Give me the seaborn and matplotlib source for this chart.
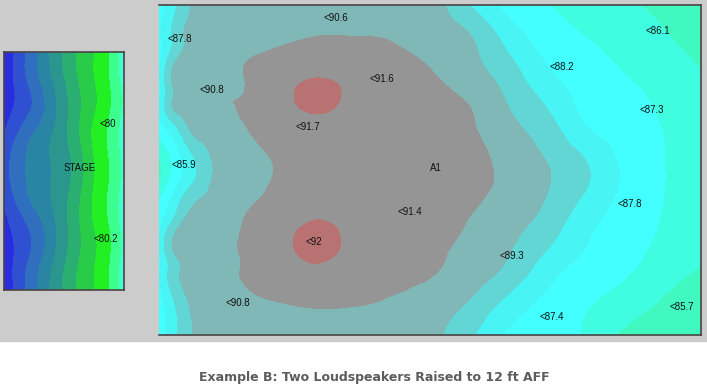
import seaborn as sns
import matplotlib.pyplot as plt
import matplotlib.tri as mtri
from matplotlib.patches import Rectangle
import numpy as np

# listening area grid (offsets inside the room panel) and SPL, dB
room_x = [0, 13, 31, 56, 81, 116, 156, 196, 236, 276, 311, 346, 386, 426, 466, 506, 542]
room_y = [0, 35, 65, 95, 125, 165, 205, 235, 265, 300, 330]
room_spl = [
    [87.5, 88.6, 90.0, 90.35, 90.55, 90.7, 90.8, 90.8, 90.6, 90.3, 89.0, 87.7, 87.03, 86.6, 86.15, 85.75, 85.4],
    [87.7, 89.0, 90.25, 90.6, 90.8, 90.9, 91.05, 91.05, 90.95, 90.6, 90.1, 88.8, 87.65, 87.05, 86.6, 86.1, 85.7],
    [87.8, 90.0, 90.5, 90.75, 90.97, 91.35, 91.7, 91.55, 91.3, 90.95, 90.35, 89.5, 88.15, 87.5, 86.93, 86.45, 86.0],
    [88.0, 89.95, 90.45, 90.7, 91.02, 91.5, 92.0, 91.68, 91.45, 91.2, 90.9, 90.0, 88.85, 87.75, 87.3, 86.75, 86.3],
    [87.4, 88.4, 90.0, 90.5, 90.85, 91.3, 91.6, 91.5, 91.4, 91.25, 91.1, 90.4, 89.5, 88.15, 87.5, 86.95, 86.5],
    [85.7, 87.0, 88.5, 90.1, 90.5, 91.02, 91.3, 91.4, 91.45, 91.4, 91.2, 90.85, 90.1, 89.15, 87.8, 87.0, 86.6],
    [87.3, 88.5, 90.0, 90.5, 90.85, 91.3, 91.7, 91.55, 91.4, 91.3, 91.05, 90.6, 89.85, 88.6, 87.6, 86.95, 86.5],
    [88.0, 89.95, 90.45, 90.7, 91.02, 91.5, 92.05, 91.65, 91.4, 91.15, 90.85, 90.25, 89.3, 88.1, 87.4, 86.8, 86.35],
    [87.8, 89.4, 90.3, 90.65, 91.0, 91.4, 91.75, 91.5, 91.3, 91.05, 90.55, 89.85, 88.5, 87.65, 87.15, 86.4, 85.95],
    [87.5, 88.7, 90.05, 90.45, 90.7, 90.95, 91.05, 91.02, 90.85, 90.45, 89.85, 88.7, 87.75, 87.1, 86.45, 85.85, 85.5],
    [87.4, 88.6, 89.9, 90.35, 90.55, 90.7, 90.8, 90.75, 90.55, 90.15, 89.15, 87.9, 87.45, 86.9, 85.8, 85.5, 85.2],
]
room_levels = [80, 86, 87, 88, 89, 90, 91, 91.85, 95]

# sample point readouts in the room
room_tags = ["<90.6", "<87.8", "<91.6", "<90.8", "<91.7", "<88.2", "<86.1", "<87.3", "<85.9",
             "A1", "<91.4", "<92", "<87.8", "<89.3", "<90.8", "<87.4", "<85.7"]
room_tag_x = [164, 8, 211, 41, 136, 391, 487, 481, 13, 271, 239, 146, 459, 341, 67, 380, 511]
room_tag_y = [13, 34, 74, 85, 122, 62, 26, 105, 160, 163, 207, 237, 199, 251, 298, 312, 302]

# stage grid and SPL
stage_x = [0, 16, 31, 46, 61, 76, 91, 106, 120]
stage_y = [0, 28, 53, 83, 118, 153, 188, 213, 238]
stage_spl = [
    [73.0, 74.55, 75.75, 77.0, 78.2, 79.25, 80.0, 81.0, 82.6],
    [73.2, 74.5, 75.6, 76.8, 78.0, 79.1, 80.0, 81.0, 82.4],
    [73.5, 74.3, 75.2, 76.4, 77.7, 78.9, 79.9, 80.9, 82.2],
    [74.0, 75.2, 76.1, 76.9, 77.8, 79.0, 80.2, 81.2, 82.5],
    [74.6, 75.7, 76.35, 76.95, 77.6, 78.6, 80.0, 81.0, 82.3],
    [74.0, 75.2, 76.1, 76.9, 77.8, 79.0, 80.2, 81.2, 82.5],
    [73.5, 74.3, 75.2, 76.4, 77.7, 78.9, 79.9, 80.9, 82.2],
    [73.2, 74.5, 75.6, 76.8, 78.0, 79.1, 80.0, 81.0, 82.4],
    [73.0, 74.55, 75.75, 77.0, 78.2, 79.25, 80.0, 81.0, 82.6],
]
stage_levels = [70, 74, 75, 76, 77, 78, 79, 80, 81, 82, 90]

stage_tags = ["<80", "<80.2"]
stage_tag_x = [95, 90]
stage_tag_y = [72, 187]

caption = "Example B: Two Loudspeakers Raised to 12 ft AFF"

room_colors = ["#40f8c0", "#40fce0", "#44ffff", "#48f4f4", "#62d6d4", "#7fb8b6", "#959595", "#b87272"]
stage_colors = ["#2a2ce0", "#3050d2", "#306ebe", "#2a84a4", "#2a968e", "#2aae72", "#28cc48",
                "#22f022", "#3cff90", "#44ffd0"]


def smooth_contour(ax, xs, ys, z, levels, colors):
    # cubic refinement of the read grid so the bands come out rounded
    X, Y = np.meshgrid(xs, ys)
    tri = mtri.Triangulation(X.ravel(), Y.ravel())
    tri_f, z_f = mtri.UniformTriRefiner(tri).refine_field(np.array(z, dtype=float).ravel(), subdiv=4)
    ax.tricontourf(tri_f, z_f, levels=levels, colors=colors)


def frame(ax, xmax, ymax):
    ax.set_xlim(0, xmax)
    ax.set_ylim(ymax, 0)
    ax.set_xticks([])
    ax.set_yticks([])
    for s in ax.spines.values():
        s.set_color("#4a4444")
        s.set_linewidth(1.2)


sns.set_style("white")
W, H = 707, 390
fig = plt.figure(figsize=(W / 100, H / 100), dpi=100)
fig.patches.append(Rectangle((0, 49 / H), 1, 341 / H, transform=fig.transFigure,
                             color="#cccccc", zorder=-10))

# room panel
ax = fig.add_axes([159 / W, 55 / H, 542 / W, 330 / H])
smooth_contour(ax, room_x, room_y, room_spl, room_levels, room_colors)
frame(ax, 542, 330)
ax.spines["left"].set_visible(False)
for t, x, y in zip(room_tags, room_tag_x, room_tag_y):
    ax.text(x, y, t, ha="left", va="center", fontsize=7, family="Liberation Sans", color="#111111")

# stage panel
ax2 = fig.add_axes([4 / W, 100 / H, 120 / W, 238 / H])
smooth_contour(ax2, stage_x, stage_y, stage_spl, stage_levels, stage_colors)
frame(ax2, 120, 238)
for t, x, y in zip(stage_tags, stage_tag_x, stage_tag_y):
    ax2.text(x, y, t, ha="left", va="center", fontsize=7, family="Liberation Sans", color="#111111")
ax2.text(76, 116, "STAGE", ha="center", va="center", fontsize=7, family="Liberation Sans", color="#111111")

fig.text(374 / W, (H - 377) / H, caption, ha="center", va="center", fontsize=9,
         fontweight="bold", color="#5c5c5c", family="DejaVu Sans")

fig.savefig("out.png", dpi=100)
